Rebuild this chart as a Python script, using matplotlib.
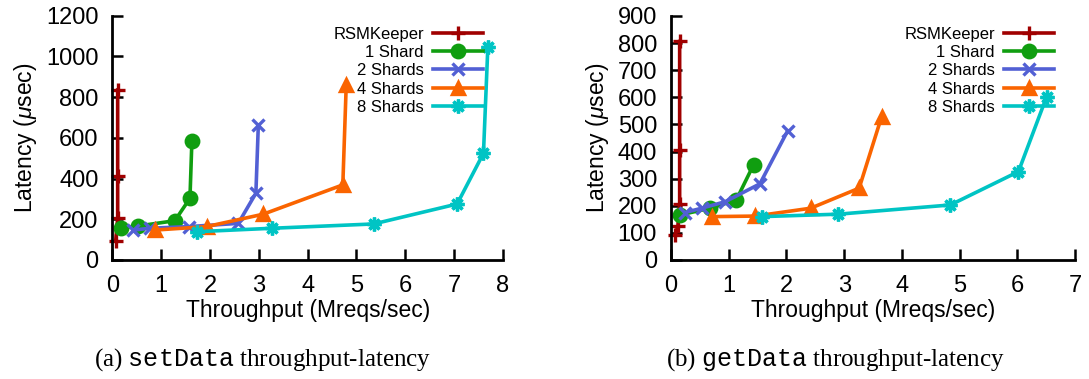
import numpy as np
import matplotlib
matplotlib.use("Agg")
import matplotlib.pyplot as plt

plt.rcParams['font.family'] = ['Liberation Sans', 'DejaVu Sans']
plt.rcParams['mathtext.fontset'] = 'custom'
plt.rcParams['mathtext.it'] = 'Liberation Sans:italic'
plt.rcParams['mathtext.rm'] = 'Liberation Serif'
plt.rcParams['mathtext.tt'] = 'Liberation Mono'

labels = ["RSMKeeper", "1 Shard", "2 Shards", "4 Shards", "8 Shards"]
colors = ['#a00000', '#109e10', '#5260d4', '#fa6400', '#00c4c4']
markers = ['+', 'o', 'x', '^', (8, 2, 0)]
msizes = [10, 9, 9, 8, 10]

# (a) setData: throughput (Mreqs/sec), latency (usec)
set_x = [
    [0.07, 0.11, 0.11, 0.11],
    [0.17, 0.53, 1.28, 1.59, 1.63],
    [0.43, 0.77, 1.57, 2.58, 2.94, 2.99],
    [0.87, 1.93, 3.09, 4.72, 4.79],
    [1.73, 3.28, 5.35, 7.06, 7.60, 7.69],
]
set_y = [
    [95, 205, 415, 835],
    [156, 167, 193, 303, 586],
    [147, 156, 164, 180, 328, 663],
    [147, 164, 225, 369, 860],
    [139, 156, 177, 275, 524, 1048],
]

# (b) getData
get_x = [
    [0.07, 0.12, 0.15, 0.15, 0.15],
    [0.15, 0.68, 1.13, 1.43],
    [0.24, 0.53, 0.94, 1.54, 2.02],
    [0.71, 1.46, 2.42, 3.26, 3.65],
    [1.57, 2.90, 4.84, 6.02, 6.51],
]
get_y = [
    [92, 125, 207, 406, 806],
    [166, 191, 221, 351],
    [175, 191, 215, 281, 476],
    [160, 162, 191, 265, 529],
    [160, 169, 203, 326, 603],
]

W, H = 1089, 379
fig = plt.figure(figsize=(W / 100, H / 100), dpi=100)


def px_axes(x0, x1, ytop, ybot):
    return fig.add_axes([x0 / W, 1 - ybot / H, (x1 - x0) / W, (ybot - ytop) / H])


def draw(ax, xs, ys, xmax, ymax, ystep, leg_right):
    for i in range(len(labels)):
        ax.plot(xs[i], ys[i], color=colors[i], marker=markers[i], lw=2.6,
                ms=msizes[i], mew=2.4, label=labels[i], clip_on=False)
    ax.set_xlim(0, xmax)
    ax.set_ylim(0, ymax)
    ax.set_xticks(range(0, xmax + 1))
    ax.set_yticks(range(0, ymax + 1, ystep))
    for s in ['top', 'right']:
        ax.spines[s].set_visible(False)
    for s in ['left', 'bottom']:
        ax.spines[s].set_linewidth(2)
    ax.tick_params(direction='in', length=8, width=1.8, labelsize=17)
    ax.tick_params(axis='y', pad=10)
    ax.tick_params(axis='x', pad=11)
    ax.set_xlabel("Throughput (Mreqs/sec)", fontsize=16.5, labelpad=1)
    ax.set_ylabel("Latency ($\\mu$sec)", fontsize=16.5, labelpad=5)
    ax.legend(loc='upper right', bbox_to_anchor=(leg_right / W, 1 - 26.5 / H),
              bbox_transform=fig.transFigure, frameon=False, markerfirst=False,
              numpoints=1, fontsize=12, handlelength=3.0, handletextpad=0.55,
              labelspacing=0.2, borderpad=0, borderaxespad=0)


ax1 = px_axes(112.3, 503, 15.7, 260)
draw(ax1, set_x, set_y, 8, 1200, 200, 483)
ax2 = px_axes(671, 1075, 16, 260)
draw(ax2, get_x, get_y, 7, 900, 100, 1054)

fig.text(263 / W, 1 - 360 / H, "(a) $\\mathtt{setData}$ throughput-latency",
         family='Liberation Serif', fontsize=18, ha='center', va='center')
fig.text(835 / W, 1 - 360 / H, "(b) $\\mathtt{getData}$ throughput-latency",
         family='Liberation Serif', fontsize=18, ha='center', va='center')

fig.savefig("out.png", dpi=100)
